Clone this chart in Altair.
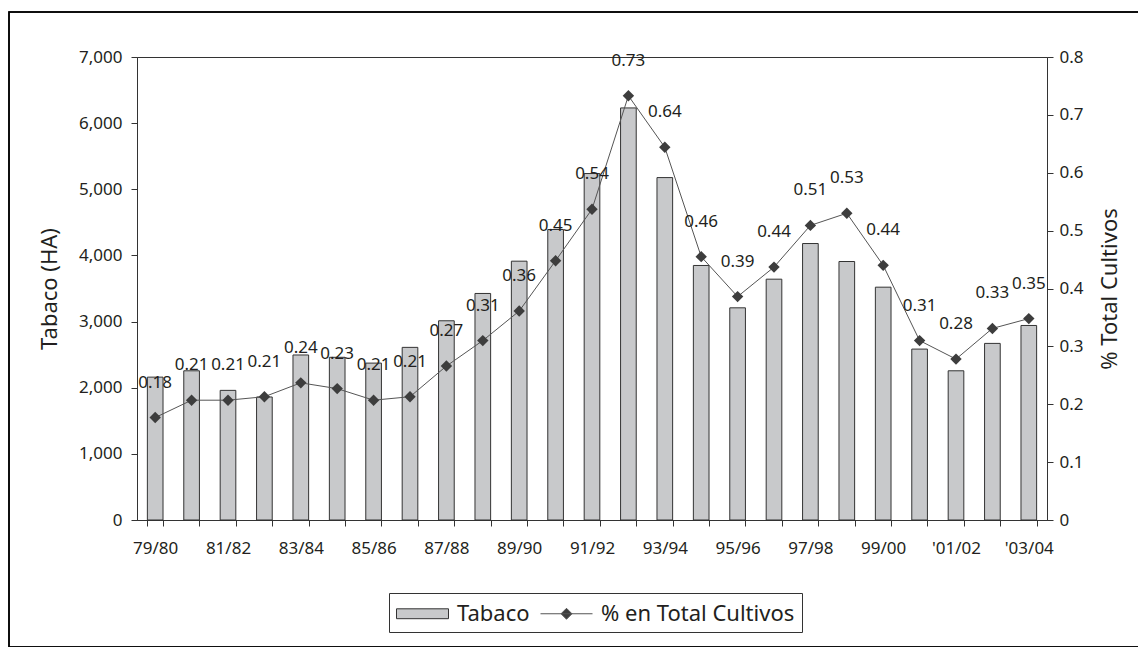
import altair as alt
import pandas as pd

campanas = ["79/80", "80/81", "81/82", "82/83", "83/84", "84/85", "85/86", "86/87",
            "87/88", "88/89", "89/90", "90/91", "91/92", "92/93", "93/94", "94/95",
            "95/96", "96/97", "97/98", "98/99", "99/00", "'00/01", "'01/02", "'02/03", "'03/04"]
etiquetas_x = ["79/80", "81/82", "83/84", "85/86", "87/88", "89/90", "91/92",
               "93/94", "95/96", "97/98", "99/00", "'01/02", "'03/04"]
tabaco_ha = [2160, 2256, 1960, 1860, 2495, 2460, 2372, 2610, 3012, 3425, 3913, 4392, 5238,
             6230, 5177, 3848, 3208, 3641, 4180, 3908, 3520, 2584, 2256, 2670, 2941]
pct_total = [0.177, 0.207, 0.207, 0.213, 0.237, 0.227, 0.207, 0.213, 0.266, 0.31, 0.361,
             0.448, 0.537, 0.733, 0.644, 0.455, 0.386, 0.437, 0.509, 0.53, 0.44, 0.31,
             0.278, 0.331, 0.348]
series = ["Tabaco", "% en Total Cultivos"]

df = pd.DataFrame({"campana": campanas, "tabaco": tabaco_ha, "pct": pct_total})
df_leg = pd.DataFrame({"serie": series})

FONT = "Noto Sans"
TXT = "#231f20"
AX = "#333333"

shown = "[" + ",".join("'" + s.replace("'", "\\'") + "'" for s in etiquetas_x) + "]"

x_enc = alt.X(
    "campana:N",
    sort=campanas,
    scale=alt.Scale(paddingInner=0.57, paddingOuter=0.285),
    axis=alt.Axis(
        title=None, labelAngle=0, tickBand="extent", tickSize=6,
        labelPadding=14, labelExpr="indexof(" + shown + ", datum.value) >= 0 ? datum.value : ''",
    ),
)

bars = alt.Chart(df).mark_bar(color="#c8c9cb", stroke=AX, strokeWidth=1).encode(
    x=x_enc,
    y=alt.Y("tabaco:Q",
            scale=alt.Scale(domain=[0, 7000], nice=False),
            axis=alt.Axis(title="Tabaco (HA)", values=list(range(0, 7001, 1000)),
                          format=",.0f", orient="left", titlePadding=17, labelPadding=9)),
)

y_right = alt.Y("pct:Q",
                scale=alt.Scale(domain=[0, 0.8], nice=False),
                axis=alt.Axis(title="% Total Cultivos", orient="right",
                              values=[0, 0.1, 0.2, 0.3, 0.4, 0.5, 0.6, 0.7, 0.8],
                              format=".1~f", titlePadding=16, labelPadding=6,
                              titleAngle=270, titleBaseline="top"))

line = alt.Chart(df).mark_line(color="#555555", strokeWidth=1).encode(x=x_enc, y=y_right)
pts = alt.Chart(df).mark_point(shape="diamond", filled=True, color="#3d3d3d", size=130, opacity=1).encode(
    x=x_enc, y=y_right)
labels = alt.Chart(df).mark_text(font=FONT, fontSize=17, color=TXT, dy=-35, baseline="middle").encode(
    x=x_enc, y=y_right, text=alt.Text("pct:Q", format=".2f"))

rect_path = "M-2,-0.38H2V0.38H-2Z"
line_path = "M-2,0H2M0,-0.42L0.42,0L0,0.42L-0.42,0Z"
legend_layer = alt.Chart(df_leg).mark_point(filled=True, clip=True, strokeWidth=1, opacity=1).encode(
    x=alt.value(-300), y=alt.value(-300),
    shape=alt.Shape("serie:N", scale=alt.Scale(domain=series, range=[rect_path, line_path]),
                    legend=alt.Legend(title=None)),
    fill=alt.Fill("serie:N", scale=alt.Scale(domain=series, range=["#c8c9cb", "#3d3d3d"]),
                  legend=alt.Legend(title=None)),
    stroke=alt.Stroke("serie:N", scale=alt.Scale(domain=series, range=["#333333", "#555555"]),
                      legend=alt.Legend(title=None)),
)

frame = alt.Chart(df_leg).mark_rect(fill=None, stroke="#000000", strokeWidth=1.5, clip=False).encode(
    x=alt.value(-128), x2=alt.value(1003), y=alt.value(-45), y2=alt.value(590))

right = alt.layer(line, pts, labels)
chart = alt.layer(frame, bars, right, legend_layer).resolve_scale(
    y="independent", shape="independent", fill="independent", stroke="independent"
).properties(
    width=910, height=463,
    autosize=alt.AutoSizeParams(type="none"),
    padding={"left": 129, "top": 49, "right": 91, "bottom": 127},
).configure_view(
    stroke=AX, strokeWidth=1
).configure_axis(
    labelFont=FONT, labelFontSize=17, labelColor=TXT,
    titleFont=FONT, titleFontSize=22, titleFontWeight="normal", titleColor=TXT,
    domainColor=AX, tickColor=AX, grid=False, tickSize=6,
).configure_legend(
    orient="none", legendX=252, legendY=536, direction="horizontal",
    labelFont=FONT, labelFontSize=22, labelColor=TXT, labelLimit=400,
    strokeColor="#333333", padding=7, symbolSize=676, symbolStrokeWidth=1,
    symbolOffset=13, labelOffset=21, columnPadding=8, symbolType="square",
)

chart.save("out.html", embed_options={"renderer": "svg", "actions": False})
